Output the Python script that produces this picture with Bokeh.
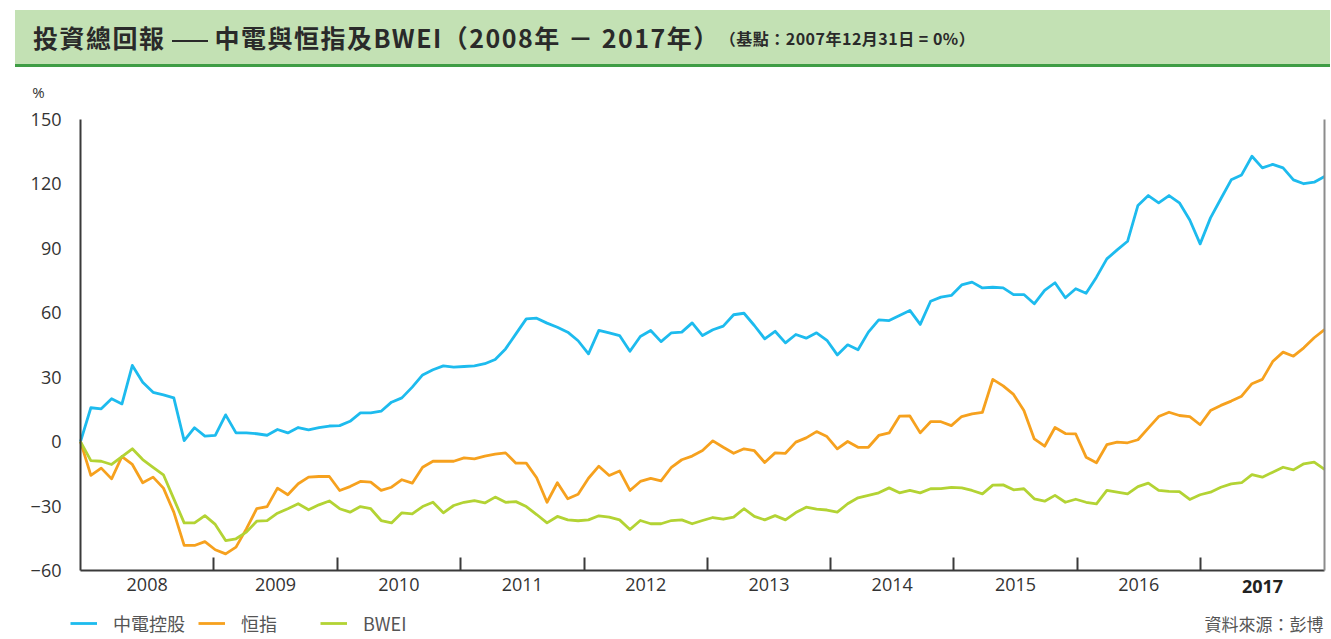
from bokeh.plotting import figure
from bokeh.models import (ColumnDataSource, FixedTicker, Label, Legend, LegendItem,
                          LinearAxis, Div, Range1d)
from bokeh.layouts import column
from bokeh.embed import file_html
from bokeh.resources import INLINE

# ---------------- data (monthly, Dec 2007 = 0%) ----------------
months = ["2007-12"] + [f"{y}-{m:02d}" for y in range(2008, 2018) for m in range(1, 13)]

clp = [0, 15.8, 15.3, 20.0, 17.6, 35.5, 27.7, 23.0, 21.8, 20.4, 0.5, 6.5, 2.6,
       2.9, 12.5, 4.1, 4.1, 3.7, 3.0, 5.7, 4.1, 6.6, 5.5, 6.5, 7.3,
       7.5, 9.5, 13.4, 13.4, 14.2, 18.4, 20.4, 25.4, 31.1, 33.5, 35.3, 34.7,
       35.0, 35.3, 36.3, 38.3, 43.2, 50.2, 57.2, 57.5, 55.2, 53.3, 51.0, 47.0,
       40.9, 51.8, 50.7, 49.4, 42.1, 49.0, 51.8, 46.6, 50.7, 51.0, 55.3, 49.4,
       52.1, 53.8, 59.1, 59.8, 54.1, 47.9, 51.4, 46.0, 49.9, 48.2, 50.7, 47.2,
       40.4, 45.1, 42.8, 51.0, 56.7, 56.4, 58.8, 61.1, 54.6, 65.4, 67.3, 68.1,
       73.0, 74.3, 71.6, 71.9, 71.6, 68.5, 68.5, 64.2, 70.4, 74.0, 67.0, 71.2,
       69.1, 76.6, 85.1, 89.3, 93.3, 110.0, 114.6, 111.2, 114.6, 111.2, 103.2, 92.1,
       104.2, 113.1, 121.9, 124.2, 132.9, 127.5, 129.1, 127.5, 121.9, 120.1, 120.8, 123.5]

hsi = [0, -15.7, -12.3, -17.3, -6.9, -10.6, -19.1, -16.5, -21.6, -32.8, -48.3, -48.3, -46.5,
       -50.3, -52.2, -49.1, -40.6, -31.2, -30.2, -21.6, -24.7, -19.6, -16.5, -16.2, -16.2,
       -22.7, -20.9, -18.5, -18.8, -22.7, -21.2, -17.7, -19.3, -11.9, -9.1, -9.1, -9.1,
       -7.5, -8.0, -6.7, -5.8, -5.2, -10.0, -10.0, -16.8, -28.2, -19.1, -26.6, -24.5,
       -17.0, -11.4, -15.7, -13.6, -22.7, -18.5, -17.1, -18.2, -11.9, -8.4, -6.7, -4.1,
       0.4, -2.6, -5.4, -3.3, -4.2, -9.7, -5.2, -5.4, -0.2, 1.8, 4.7, 2.4,
       -3.3, 0.1, -2.6, -2.6, 2.9, 4.1, 11.9, 12.0, 4.1, 9.3, 9.3, 7.5,
       11.7, 13.0, 13.7, 29.0, 26.0, 22.0, 14.5, 1.3, -2.1, 6.6, 3.8, 3.6,
       -7.2, -9.8, -1.4, -0.2, -0.5, 0.9, 6.3, 11.7, 13.7, 12.2, 11.7, 7.9,
       14.5, 16.9, 18.9, 21.2, 27.0, 29.0, 37.3, 41.7, 39.8, 43.7, 48.4, 52.2]

bwei = [0, -8.8, -9.1, -10.6, -6.9, -3.3, -8.3, -11.9, -15.4, -26.6, -37.8, -37.8, -34.4,
        -38.5, -46.0, -45.2, -42.1, -37.0, -36.7, -33.3, -31.2, -28.9, -31.7, -29.4, -27.6,
        -31.2, -32.8, -30.2, -31.2, -36.7, -37.8, -33.1, -33.6, -30.2, -28.2, -33.1, -29.7,
        -28.2, -27.4, -28.5, -25.8, -28.2, -27.9, -30.2, -33.9, -37.8, -34.8, -36.4, -36.8,
        -36.4, -34.5, -35.1, -36.4, -40.9, -36.7, -38.2, -38.2, -36.7, -36.4, -38.2, -36.7,
        -35.3, -36.1, -35.1, -31.2, -34.8, -36.4, -34.4, -36.4, -33.0, -30.5, -31.4, -31.8,
        -32.8, -28.9, -26.1, -25.0, -23.8, -21.5, -23.8, -22.7, -23.8, -21.9, -21.8, -21.3,
        -21.5, -22.7, -24.3, -20.2, -20.1, -22.4, -21.9, -26.6, -27.7, -25.0, -28.2, -26.8,
        -28.2, -28.9, -22.7, -23.5, -24.3, -20.9, -19.3, -22.7, -23.1, -23.2, -26.9, -24.7,
        -23.5, -21.2, -19.6, -19.1, -15.3, -16.5, -14.2, -11.9, -13.1, -10.3, -9.5, -12.9]

series_names = ["中電控股", "恒指", "BWEI"]
years = ["2008", "2009", "2010", "2011", "2012", "2013", "2014", "2015", "2016", "2017"]
y_ticks = [-60, -30, 0, 30, 60, 90, 120, 150]

# ---------------- styling / layout ----------------
BLUE, ORANGE, GREEN = "#1dbbee", "#f6a11e", "#b3d334"
AXIS = "#3a3a3a"
TXT = "#333333"
FONT = "Open Sans"
CJK = "Noto Sans CJK TC"

W, H = 1330, 571            # figure canvas (placed below a 67px title bar)
FRAME_LEFT = 80             # px of the y axis
PX_MONTH = 10.367           # px per month
ZERO_Y = 441.2 - 67         # canvas px of the 0% line
PX_PCT = 2.148              # px per percentage point

src = ColumnDataSource(dict(x=list(range(len(months))), month=months,
                            clp=clp, hsi=hsi, bwei=bwei))

n_last = len(months) - 1
y_lo, y_hi = y_ticks[0], y_ticks[-1]
# year boundary positions (in month-index units), as laid out in the source chart
bounds = [12.86, 24.76, 36.66, 48.57, 60.48, 72.35, 84.24, 96.14, 108.03]
edges = [0] + bounds + [n_last]
centers = [round((edges[i] + edges[i + 1]) / 2, 3) for i in range(len(years))]

x_range = Range1d(-FRAME_LEFT / PX_MONTH, (W - FRAME_LEFT) / PX_MONTH)
y_range = Range1d(-(H - ZERO_Y) / PX_PCT, ZERO_Y / PX_PCT)

p = figure(width=W, height=H, output_backend="svg", toolbar_location=None,
           x_range=x_range, y_range=y_range, x_axis_location=None, y_axis_location=None,
           min_border_left=0, min_border_right=0, min_border_top=0, min_border_bottom=0)
p.outline_line_color = None
p.grid.visible = False
p.margin = 0

r1 = p.line("x", "clp", source=src, line_color=BLUE, line_width=2.8, line_join="round")
r2 = p.line("x", "hsi", source=src, line_color=ORANGE, line_width=2.8, line_join="round")
r3 = p.line("x", "bwei", source=src, line_color=GREEN, line_width=2.8, line_join="round")

# y axis
ya = LinearAxis(fixed_location=0, bounds=(y_lo, y_hi), ticker=FixedTicker(ticks=y_ticks))
ya.major_tick_in = 0
ya.major_tick_out = 0
ya.minor_tick_line_color = None
ya.axis_line_width = 2
ya.axis_line_color = AXIS
ya.major_label_standoff = 19
ya.major_label_text_font = FONT
ya.major_label_text_font_size = "18px"
ya.major_label_text_color = TXT
p.add_layout(ya, "left")

# x axis
xa = LinearAxis(fixed_location=y_lo, bounds=(0, n_last),
                ticker=FixedTicker(ticks=centers[:-1], minor_ticks=bounds))
xa.major_tick_in = 0
xa.major_tick_out = 0
xa.minor_tick_in = 13
xa.minor_tick_out = 0
xa.minor_tick_line_width = 2
xa.minor_tick_line_color = AXIS
xa.axis_line_width = 2
xa.axis_line_color = AXIS
xa.major_label_standoff = 7
xa.major_label_text_font = FONT
xa.major_label_text_font_size = "18px"
xa.major_label_text_color = TXT
xa.major_label_overrides = {c: y for c, y in zip(centers[:-1], years[:-1])}
p.add_layout(xa, "below")

# right border line
ra = LinearAxis(fixed_location=n_last, bounds=(y_lo, y_hi), ticker=FixedTicker(ticks=[]))
ra.axis_line_color = "#8c8c8c"
ra.axis_line_width = 2
ra.major_tick_line_color = None
ra.minor_tick_line_color = None
ra.major_label_text_font_size = "0px"
p.add_layout(ra, "right")

p.add_layout(Label(x=centers[-1], y=y_lo, y_offset=-16, text=years[-1], text_align="center",
                   text_baseline="middle", text_font=FONT, text_font_size="18px",
                   text_font_style="bold", text_color="#222222"))

# % unit
p.add_layout(Label(x=0, y=y_hi, x_offset=-42, y_offset=28, text="%", text_align="center",
                   text_baseline="middle", text_font=FONT, text_font_size="15px",
                   text_color=TXT))

# source note
p.add_layout(Label(x=n_last, y=y_lo, x_offset=-1, y_offset=-53, text="資料來源：彭博",
                   text_align="right", text_baseline="middle", text_font=CJK,
                   text_font_size="17px", text_color="#555555"))

legend = Legend(items=[LegendItem(label=series_names[0], renderers=[r1]),
                       LegendItem(label=series_names[1], renderers=[r2]),
                       LegendItem(label=series_names[2], renderers=[r3])],
                orientation="horizontal", location=(70, 2),
                glyph_width=27, glyph_height=20, label_height=20, label_standoff=16,
                spacing=13, label_width=66, padding=0, margin=0,
                border_line_color=None, background_fill_alpha=0,
                label_text_font=CJK, label_text_font_size="18px",
                label_text_color="#555555", label_text_baseline="middle")
p.add_layout(legend)

title_html = (
    '<div style="box-sizing:border-box;width:1315px;height:57px;background:#c3e1b4;'
    'border-bottom:3px solid #3f9d45;padding-left:18px;padding-top:2px;display:flex;'
    "align-items:center;font-family:'Noto Sans CJK TC';color:#2a2a2a;white-space:nowrap;\">"
    '<span style="font-size:25px;font-weight:700;letter-spacing:1.5px;">投資總回報'
    '<span style="display:inline-block;width:36px;border-top:2px solid #2a2a2a;'
    'vertical-align:middle;margin:0 7px 0 6px;"></span>'
    '中電與恒指及BWEI（2008年 － 2017年）</span>'
    '<span style="font-size:16px;font-weight:700;letter-spacing:0.5px;">'
    '（基點：2007年12月31日 = 0%）</span></div>'
)
title = Div(text=title_html, width=1315, height=57, margin=(10, 0, 0, 15))

layout = column(title, p, spacing=0)

open("out.html", "w").write(file_html(layout, INLINE))
